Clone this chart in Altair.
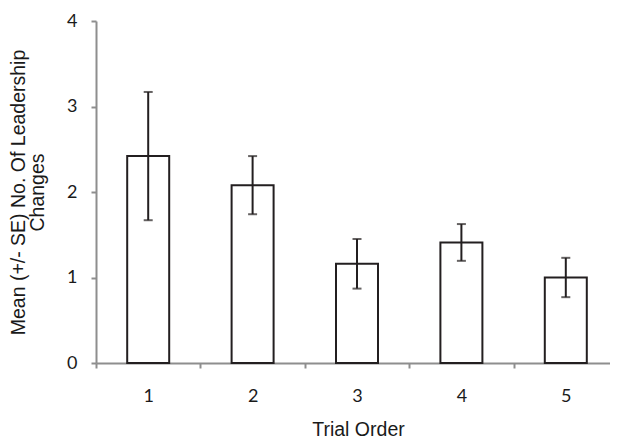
import altair as alt
import pandas as pd

trial = ["1", "2", "3", "4", "5"]
mean = [2.42, 2.08, 1.16, 1.41, 1.00]
se = [0.75, 0.34, 0.29, 0.215, 0.23]

df = pd.DataFrame({"trial": trial, "mean": mean, "se": se})
df["lo"] = df["mean"] - df["se"]
df["hi"] = df["mean"] + df["se"]

AXIS_GRAY = "#8e8e8e"
INK = "#231f20"

x = alt.X(
    "trial:N",
    sort=trial,
    scale=alt.Scale(range=[0, 522], paddingInner=0, paddingOuter=0),
    axis=alt.Axis(
        title="Trial Order",
        labelAngle=0,
        tickBand="extent",
        domainColor=AXIS_GRAY,
        domainWidth=2,
        tickColor=AXIS_GRAY,
        tickWidth=2,
        tickSize=5,
        labelPadding=19,
        labelFont="Lato",
        labelFontSize=18,
        labelColor="#1a1a1a",
        titleFont="Liberation Sans",
        titleFontSize=19.5,
        titleFontWeight="normal",
        titleColor="#1a1a1a",
        titleX=262,
        titleY=72,
        titleBaseline="alphabetic",
    ),
)

y_axis = alt.Axis(
    title=["Mean (+/- SE) No. Of Leadership", "Changes"],
    values=[0, 1, 2, 3, 4],
    format="d",
    grid=False,
    domainColor=AXIS_GRAY,
    domainWidth=2,
    tickColor=AXIS_GRAY,
    tickWidth=2,
    tickSize=5,
    labelPadding=14,
    labelFont="Lato",
    labelFontSize=18,
    labelColor="#1a1a1a",
    titleFont="Liberation Sans",
    titleFontSize=19.5,
    titleFontWeight="normal",
    titleColor="#1a1a1a",
    titleAngle=270,
    titleBaseline="top",
    titleAlign="center",
    titleLineHeight=19,
    titleX=-87,
    titleY=171,
)

yscale = alt.Scale(domain=[0, 4], nice=False)

base = alt.Chart(df)

bars = base.mark_bar(size=42, fill="white", stroke=INK, strokeWidth=2).encode(
    x=x,
    y=alt.Y("mean:Q", scale=yscale, axis=y_axis),
)

rules = base.mark_rule(color=INK, strokeWidth=2).encode(
    x=alt.X("trial:N", sort=trial),
    y="lo:Q",
    y2="hi:Q",
)

cap_lo = base.mark_tick(color=INK, size=9, thickness=2).encode(
    x=alt.X("trial:N", sort=trial),
    y="lo:Q",
)
cap_hi = base.mark_tick(color=INK, size=9, thickness=2).encode(
    x=alt.X("trial:N", sort=trial),
    y="hi:Q",
)

chart = (
    alt.layer(bars, rules, cap_lo, cap_hi)
    .properties(
        width=514,
        height=342,
        autosize=alt.AutoSizeParams(type="none"),
        padding={"left": 88, "top": 13, "right": 0, "bottom": 77},
        background="white",
    )
    .configure_view(stroke=None)
)

chart.save("out.html", embed_options={"renderer": "svg", "actions": False})
